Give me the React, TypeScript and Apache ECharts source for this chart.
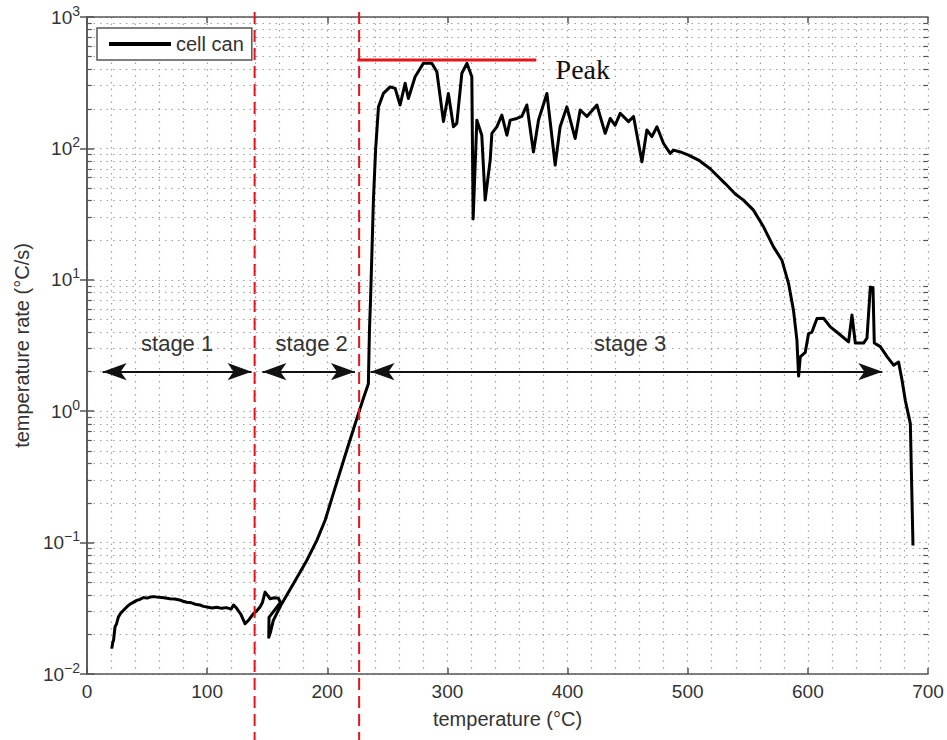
import React, { useEffect, useRef } from 'react';
import * as echarts from 'echarts';

// cell can temperature rate vs temperature
const temperature = [
  20.6, 21.5, 22.1, 23.3, 24.5, 26.1, 28, 31.6, 34, 37, 41.4, 44, 47, 50, 52.5, 56, 60, 64, 69, 73, 77, 80,
  83, 87, 90, 94, 97, 100, 104, 108, 112, 116, 120, 122, 124.6, 128, 131.6, 135, 138.5, 141, 144, 146, 148.2,
  150, 152.4, 156, 159.3, 161, 151.5, 151.3, 152.5, 155.1, 162.1, 171.8, 182.9, 191.3, 198.2, 207, 216.2,
  225.9, 230, 234.2, 235.1, 236.0, 238.4, 240.2, 242.6, 246.7, 252.3, 256.5, 260.6, 264.8, 267.5, 273.1,
  280.0, 287.0, 291.2, 296.7, 300.8, 305.0, 307.8, 312.0, 316.2, 320.3, 321.4, 324.5, 328.6, 331.4, 335.6,
  337.0, 341.1, 345.3, 349.5, 352.2, 357.8, 361.9, 366.1, 371.6, 375.8, 382.8, 389.7, 393.8, 399.4, 406.3,
  410.5, 416.1, 424.4, 431.3, 435.5, 439.6, 443.8, 450.7, 454.9, 461.9, 466.0, 470.2, 474.4, 479.9, 485.4,
  488.2, 493.8, 500.7, 509.0, 518.7, 531.2, 539.6, 546.4, 554.7, 563.1, 571.4, 578.4, 583.9, 588.1, 590.9,
  592.3, 593.7, 597.8, 600.6, 603.4, 607.6, 613.1, 618.7, 625.6, 633.9, 636.7, 639.5, 646.4, 649.2, 652.0,
  654.2, 655.3, 660.3, 665.9, 671.4, 675.5, 678.4, 681.1, 685.3, 687.5,
];
const rate = [
  0.0156, 0.0175, 0.018, 0.0228, 0.024, 0.0271, 0.029, 0.0314, 0.033, 0.0345, 0.0363, 0.037, 0.0382, 0.0378,
  0.0385, 0.0388, 0.0383, 0.038, 0.0374, 0.0372, 0.0366, 0.0358, 0.0352, 0.0348, 0.034, 0.0335, 0.0327,
  0.0323, 0.0318, 0.0322, 0.0316, 0.032, 0.0312, 0.0335, 0.0316, 0.0285, 0.0241, 0.026, 0.0288, 0.03, 0.0323,
  0.035, 0.042, 0.04, 0.0374, 0.038, 0.0377, 0.035, 0.027, 0.019, 0.0205, 0.0256, 0.0343, 0.0486, 0.0731,
  0.104, 0.148, 0.27, 0.504, 0.959, 1.25, 1.62, 4.13, 7.0, 40.4, 97, 207, 262, 294, 286, 214, 313, 240, 351,
  444, 444, 383, 160, 262, 146, 155, 373, 444, 351, 29, 164, 126, 40.4, 81.5, 130, 146, 179, 126, 164, 169,
  175, 214, 94, 164, 262, 74.6, 146, 207, 119, 196, 175, 214, 130, 169, 150, 185, 160, 175, 79, 138, 123,
  146, 109, 91.6, 97, 94, 89, 81.5, 70, 54, 45, 40.4, 33.9, 25.3, 17.8, 14.1, 9.4, 5.8, 3.47, 1.85, 2.59,
  2.8, 3.9, 4.0, 5.07, 5.1, 4.38, 3.9, 3.37, 5.4, 3.3, 3.3, 3.6, 8.8, 8.7, 3.3, 3.1, 2.6, 2.24, 2.37, 1.72,
  1.21, 0.805, 0.095,
];

const xMin = 0;
const xMax = 700;
const xInterval = 100;
const yMin = 0.01;
const yMax = 1000;
const decadeExponents = [-2, -1, 0, 1, 2];
const minorMultipliers = [2, 3, 4, 5, 6, 7, 8, 9];

const stageLabels = ['stage 1', 'stage 2', 'stage 3'];
const stageStart = [13, 146, 236];
const stageEnd = [137, 223, 662];
const stageLabelX = [75, 187, 452];
const stageArrowLevel = 2;
const stageLabelLevel = 3.3;

const stageBoundaries = [139.5, 226.5];
const peakLevel = 471;
const peakStart = 225;
const peakEnd = 374;
const peakLabel = 'Peak';
const peakLabelX = 390;
const peakLabelLevel = 400;

const seriesName = 'cell can';

const SANS = '"Liberation Sans", Arial, Helvetica, sans-serif';
const SERIF = '"Liberation Serif", "Times New Roman", serif';

export default function App() {
  const ref = useRef<HTMLDivElement>(null);
  useEffect(() => {
    const chart = echarts.init(ref.current!, null, { renderer: 'svg' });
    const minorLevels: number[] = [];
    decadeExponents.forEach((e) => minorMultipliers.forEach((m) => minorLevels.push(m * Math.pow(10, e))));
    const dotted = { color: '#a0a0a0', width: 1.2, type: [1.5, 5] as any };
    const axisLineStyle = { color: '#555', width: 1.5 };
    const supFmt = (v: number) => {
      const e = Math.round(Math.log10(v));
      return '10{sup|' + (e < 0 ? '\u2212' + -e : String(e)) + '}';
    };
    const option: any = {
      animation: false,
      backgroundColor: '#fff',
      grid: { left: 87, right: 19, top: 17, bottom: 66, containLabel: false },
      legend: {
        data: [seriesName],
        left: 97,
        top: 28,
        icon: 'rect',
        itemWidth: 62,
        itemHeight: 4,
        itemGap: 10,
        padding: [6, 8, 6, 12],
        borderColor: '#555',
        borderWidth: 1.5,
        backgroundColor: '#fff',
        textStyle: { fontFamily: SANS, fontSize: 20, color: '#333' },
        z: 10,
      },
      xAxis: [
        {
          type: 'value',
          min: xMin,
          max: xMax,
          interval: xInterval,
          name: 'temperature (\u00b0C)',
          nameLocation: 'middle',
          nameGap: 35,
          nameTextStyle: { fontFamily: SANS, fontSize: 20, color: '#333' },
          axisLine: { lineStyle: axisLineStyle },
          axisTick: { inside: true, length: 6, lineStyle: axisLineStyle },
          axisLabel: { fontFamily: SANS, fontSize: 19, color: '#333', margin: 8 },
          splitLine: { show: true, lineStyle: dotted },
          minorTick: { show: false, splitNumber: 5 },
          minorSplitLine: { show: true, lineStyle: dotted },
        },
        {
          type: 'value',
          position: 'top',
          min: xMin,
          max: xMax,
          interval: xInterval,
          axisLine: { show: true, lineStyle: axisLineStyle },
          axisTick: { show: true, inside: true, length: 6, lineStyle: axisLineStyle },
          axisLabel: { show: false },
          splitLine: { show: false },
        },
      ],
      yAxis: [
        {
          type: 'log',
          logBase: 10,
          min: yMin,
          max: yMax,
          name: 'temperature rate (\u00b0C/s)',
          nameLocation: 'middle',
          nameGap: 55,
          nameTextStyle: { fontFamily: SANS, fontSize: 20, color: '#333' },
          axisLine: { show: true, lineStyle: axisLineStyle },
          axisTick: { show: true, inside: true, length: 7, lineStyle: axisLineStyle },
          axisLabel: {
            formatter: supFmt,
            fontFamily: SANS,
            fontSize: 19,
            color: '#333',
            margin: 7,
            rich: {
              sup: { fontFamily: SANS, fontSize: 14, color: '#333', padding: [0, 0, 13, 0] },
            },
          },
          splitLine: { show: true, lineStyle: dotted },
        },
        {
          type: 'log',
          logBase: 10,
          min: yMin,
          max: yMax,
          position: 'right',
          axisLine: { show: true, lineStyle: axisLineStyle },
          axisTick: { show: true, inside: true, length: 7, lineStyle: axisLineStyle },
          axisLabel: { show: false },
          splitLine: { show: false },
        },
      ],
      series: [
        {
          name: 'minor-grid',
          type: 'line',
          data: [],
          silent: true,
          markLine: {
            silent: true,
            symbol: 'none',
            label: { show: false },
            lineStyle: dotted,
            data: minorLevels.map((v) => ({ yAxis: v })),
          },
        },
        {
          name: 'minor-ticks',
          type: 'line',
          data: [],
          silent: true,
          markLine: {
            silent: true,
            symbol: 'none',
            label: { show: false },
            lineStyle: { color: '#555', width: 1.2, type: 'solid' },
            data: minorLevels.flatMap((v) => [
              [{ coord: [xMin, v] }, { coord: [xMin + 4, v] }],
              [{ coord: [xMax - 4, v] }, { coord: [xMax, v] }],
            ]),
          },
        },
        {
          name: seriesName,
          type: 'line',
          data: temperature.map((t, i) => [t, rate[i]]),
          showSymbol: false,
          symbol: 'none',
          color: '#000',
          lineStyle: { color: '#000', width: 3, join: 'round' },
          z: 5,
        },
        {
          name: 'peak',
          type: 'line',
          data: [
            [peakStart, peakLevel],
            [peakEnd, peakLevel],
          ],
          symbol: 'none',
          lineStyle: { color: '#e8141c', width: 3 },
          z: 6,
        },
        {
          name: 'stages',
          type: 'line',
          data: [],
          silent: true,
          z: 6,
          markLine: {
            silent: true,
            symbol: ['arrow', 'arrow'],
            symbolSize: [13, 24],
            label: { show: false },
            lineStyle: { color: '#111', width: 2.2, type: 'solid' },
            data: stageStart.map((s, i) => [
              { coord: [s, stageArrowLevel] },
              { coord: [stageEnd[i], stageArrowLevel] },
            ]),
          },
        },
      ],
    };
    chart.setOption(option);

    const px = (x: number, y: number) => chart.convertToPixel({ gridIndex: 0 }, [x, y]) as number[];
    const graphics: any[] = [];
    stageBoundaries.forEach((b) => {
      const p = px(b, yMax);
      graphics.push({
        type: 'line',
        z: 20,
        shape: { x1: p[0], y1: 12, x2: p[0], y2: 740 },
        style: { stroke: '#e8141c', lineWidth: 2, lineDash: [12, 6] },
      });
    });
    stageLabels.forEach((s, i) => {
      const p = px(stageLabelX[i], stageLabelLevel);
      graphics.push({
        type: 'text',
        z: 20,
        x: p[0],
        y: p[1],
        style: {
          text: s,
          fontFamily: SANS,
          fontSize: 22,
          fill: '#333',
          align: 'center',
          verticalAlign: 'middle',
        },
      });
    });
    const pk = px(peakLabelX, peakLabelLevel);
    graphics.push({
      type: 'text',
      z: 20,
      x: pk[0],
      y: pk[1],
      style: {
        text: peakLabel,
        fontFamily: SERIF,
        fontSize: 28,
        fill: '#111',
        align: 'left',
        verticalAlign: 'middle',
      },
    });
    chart.setOption({ graphic: graphics });
    return () => chart.dispose();
  }, []);
  return <div ref={ref} style={{ position: 'fixed', left: 0, top: 0, width: 947, height: 740 }} />;
}
